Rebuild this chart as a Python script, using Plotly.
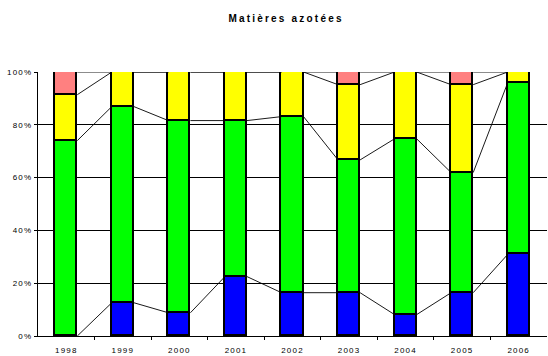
import plotly.graph_objects as go

years = ["1998", "1999", "2000", "2001", "2002", "2003", "2004", "2005", "2006"]
blue = [0.0, 12.6, 8.8, 22.5, 16.4, 16.4, 8.1, 16.4, 30.9]
green = [74.0, 74.3, 72.8, 59.1, 66.7, 50.3, 66.6, 45.5, 65.0]
yellow = [17.4, 13.1, 18.4, 18.4, 16.9, 28.5, 25.3, 33.3, 4.1]
pink = [8.6, 0.0, 0.0, 0.0, 0.0, 4.8, 0.0, 4.8, 0.0]

series = [("blue", "#0000FF", blue), ("green", "#00FF00", green),
          ("yellow", "#FFFF00", yellow), ("pink", "#FF8080", pink)]

bar_w = 0.39
xs = list(range(len(years)))
font = "Liberation Sans, Arial, sans-serif"

fig = go.Figure()
for name, color, vals in series:
    # empty segments are left out so they do not draw a stray outline
    shown = [v if v > 0 else None for v in vals]
    fig.add_trace(go.Bar(x=xs, y=shown, name=name, width=bar_w,
                         marker=dict(color=color, line=dict(color="black", width=1.6)),
                         showlegend=False))

# series lines joining the top of each segment to the same segment of the next bar
cum = [0.0] * len(years)
line_x, line_y = [], []
for _, _, vals in series:
    cum = [c + v for c, v in zip(cum, vals)]
    for i in range(len(years) - 1):
        line_x += [xs[i] + bar_w / 2, xs[i + 1] - bar_w / 2, None]
        line_y += [cum[i], cum[i + 1], None]

fig.add_trace(go.Scatter(x=line_x, y=line_y, mode="lines",
                         line=dict(color="black", width=0.9),
                         showlegend=False, hoverinfo="skip"))

spaced = lambda s: f'<span style="letter-spacing:1.2px">{s}</span>'
yvals = [0, 20, 40, 60, 80, 100]

fig.update_layout(
    width=548, height=356,
    margin=dict(l=38, r=1, t=72, b=20),
    paper_bgcolor="white", plot_bgcolor="white",
    barmode="stack", bargap=0,
    font=dict(family=font, size=8, color="black"),
    title=dict(text='<b><span style="letter-spacing:2.2px">Matières azotées</span></b>',
               x=0.522, xanchor="center", y=0.948, yanchor="middle",
               font=dict(family=font, size=10, color="black")),
    xaxis=dict(range=[-0.5, len(years) - 0.5], tickmode="array",
               tickvals=xs, ticktext=[spaced(y) for y in years],
               ticks="", showgrid=False, zeroline=False,
               showline=True, linecolor="black", linewidth=1.2,
               ticklabelstandoff=6,
               minor=dict(tickmode="array", tickvals=[i + 0.5 for i in xs[:-1]],
                          ticks="outside", ticklen=3, tickcolor="black", showgrid=False),
               tickfont=dict(family=font, size=8)),
    yaxis=dict(range=[0, 100], tickmode="array", tickvals=yvals,
               ticktext=[spaced(f"{v}%") for v in yvals],
               ticks="outside", ticklen=3, tickcolor="black",
               showgrid=True, gridcolor="black", gridwidth=1,
               zeroline=False, showline=True, linecolor="black", linewidth=1.2,
               tickfont=dict(family=font, size=8)),
)

fig.write_html("out.html")
